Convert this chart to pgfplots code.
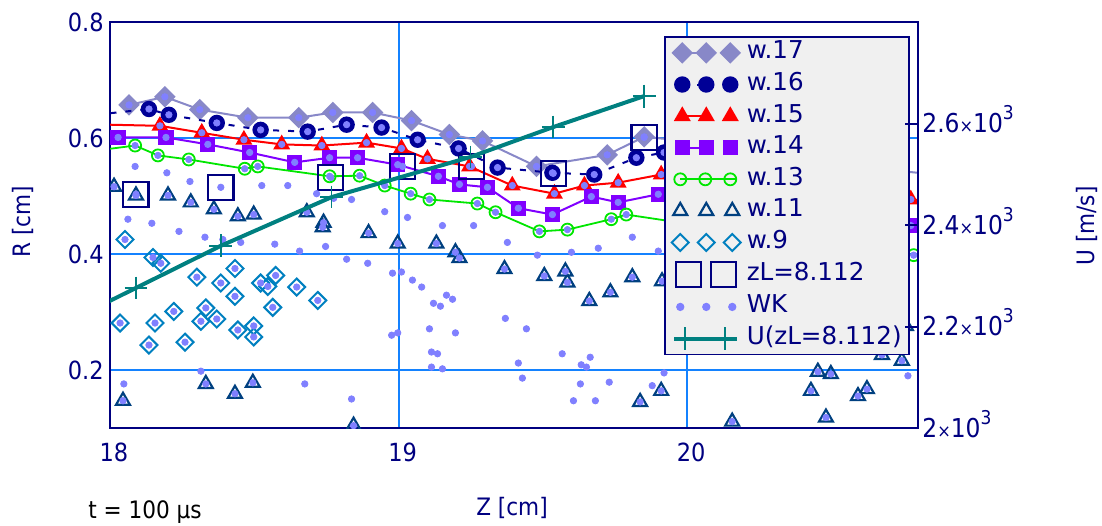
\documentclass[border=0pt]{standalone}
\usepackage{fontspec}
\setmainfont{DejaVu Sans Condensed}
\newfontfamily\legfont{DejaVu Sans}
\usepackage{pgfplots}
\usepackage{pgfplotstable}
\pgfplotsset{compat=1.18}

\definecolor{navy}{RGB}{0,0,128}
\definecolor{gridblue}{RGB}{20,130,255}
\definecolor{w17c}{RGB}{136,136,200}
\definecolor{w16c}{RGB}{0,0,150}
\definecolor{w15c}{RGB}{255,0,0}
\definecolor{w14c}{RGB}{128,0,255}
\definecolor{w13c}{RGB}{0,230,0}
\definecolor{w11c}{RGB}{0,64,128}
\definecolor{w9c}{RGB}{0,128,192}
\definecolor{zlc}{RGB}{0,0,128}
\definecolor{wkc}{RGB}{128,128,255}
\definecolor{uc}{RGB}{0,128,128}
\definecolor{leggray}{RGB}{240,240,240}

\newcommand\tickfont{\fontsize{12.5}{14}\selectfont}
\newcommand\rtickfont{\fontsize{13}{15}\selectfont}
\newcommand\labfont{\fontsize{12}{14}\selectfont}
\newcommand\smx{{\fontsize{9}{9}\selectfont ×}}
\newcommand\supthree{\raisebox{6.5pt}{\fontsize{9.5}{9}\selectfont 3}}

\pgfplotstableread{
x y
18.066 0.657
18.190 0.671
18.311 0.649
18.478 0.635
18.654 0.635
18.772 0.644
18.910 0.644
19.045 0.630
19.176 0.606
19.291 0.595
19.478 0.551
19.723 0.571
19.851 0.602
20.100 0.590
20.450 0.560
20.700 0.545
20.900 0.535
}\wseventeen

\pgfplotstableread{
x y
17.950 0.640
18.135 0.650
18.204 0.640
18.370 0.626
18.522 0.614
18.685 0.611
18.820 0.623
18.941 0.618
19.066 0.597
19.208 0.582
19.343 0.549
19.533 0.540
19.678 0.537
19.824 0.566
19.920 0.575
20.300 0.560
20.700 0.520
20.900 0.500
}\wsixteen

\pgfplotstableread{
x y
17.900 0.624
18.173 0.621
18.318 0.609
18.464 0.597
18.595 0.589
18.734 0.587
18.889 0.592
19.010 0.582
19.100 0.564
19.246 0.551
19.394 0.518
19.540 0.504
19.644 0.518
19.761 0.523
19.910 0.537
20.300 0.530
20.775 0.494
20.900 0.490
}\wfifteen

\pgfplotstableread{
x y
18.028 0.601
18.194 0.601
18.339 0.589
18.484 0.575
18.640 0.558
18.761 0.566
18.858 0.566
18.997 0.554
19.138 0.534
19.211 0.520
19.308 0.515
19.415 0.479
19.533 0.468
19.668 0.499
19.761 0.489
19.900 0.503
20.300 0.480
20.775 0.449
}\wfourteen

\pgfplotstableread{
x y
17.900 0.575
18.087 0.587
18.166 0.570
18.273 0.563
18.467 0.547
18.512 0.551
18.761 0.534
18.865 0.535
18.952 0.518
19.042 0.504
19.107 0.494
19.273 0.487
19.336 0.472
19.488 0.439
19.585 0.442
19.737 0.460
19.789 0.468
20.300 0.430
20.785 0.398
}\wthirteen

\pgfplotstableread{
x y
18.014 0.516
18.090 0.501
18.201 0.501
18.280 0.489
18.360 0.477
18.443 0.465
18.498 0.468
18.682 0.472
18.740 0.454
18.737 0.446
18.896 0.436
18.997 0.418
18.332 0.176
18.433 0.159
18.495 0.178
18.045 0.147
18.844 0.104
19.131 0.418
19.197 0.403
19.211 0.393
19.367 0.374
19.505 0.362
19.578 0.370
19.585 0.351
19.661 0.319
19.734 0.334
19.810 0.360
19.913 0.353
19.837 0.145
19.910 0.164
20.453 0.197
20.498 0.193
20.429 0.164
20.592 0.155
20.623 0.167
20.156 0.111
20.481 0.118
20.675 0.226
20.744 0.216
20.758 0.276
}\weleven

\pgfplotstableread{
x y
18.052 0.425
18.149 0.394
18.176 0.384
18.301 0.360
18.384 0.350
18.433 0.375
18.433 0.327
18.522 0.350
18.547 0.344
18.574 0.363
18.647 0.343
18.720 0.320
18.035 0.281
18.156 0.281
18.221 0.301
18.332 0.307
18.315 0.284
18.370 0.288
18.443 0.269
18.498 0.276
18.498 0.257
18.564 0.308
18.135 0.243
18.260 0.248
}\wnine

\pgfplotstableread{
x y
18.090 0.503
18.384 0.515
18.765 0.532
19.014 0.551
19.253 0.551
19.536 0.539
19.851 0.601
}\zl

\pgfplotstableread{
x y
18.087 0.551
18.197 0.540
18.277 0.525
18.526 0.518
18.616 0.518
18.837 0.494
18.952 0.473
18.062 0.460
18.145 0.453
18.239 0.439
18.329 0.429
18.453 0.420
18.571 0.417
18.747 0.413
18.657 0.405
18.820 0.391
18.893 0.384
18.979 0.367
18.976 0.260
18.997 0.264
18.315 0.198
18.048 0.176
18.675 0.176
18.837 0.150
18.391 0.425
18.716 0.504
18.775 0.496
19.031 0.463
19.152 0.449
19.260 0.449
19.377 0.420
19.481 0.398
19.599 0.403
19.692 0.410
19.810 0.429
19.900 0.405
19.010 0.369
19.048 0.355
19.080 0.343
19.121 0.315
19.145 0.310
19.166 0.329
19.187 0.322
19.370 0.289
19.443 0.271
19.107 0.271
19.197 0.264
19.114 0.231
19.135 0.228
19.114 0.205
19.152 0.202
19.415 0.212
19.429 0.186
19.567 0.228
19.664 0.222
19.633 0.209
19.651 0.205
19.630 0.176
19.730 0.179
19.606 0.147
19.682 0.147
19.879 0.173
19.920 0.195
20.765 0.190
}\wk

\pgfplotstableread{
x u
17.800 2194
18.090 2276
18.384 2359
18.768 2455
19.249 2534
19.536 2593
19.851 2654
}\uzl

\pgfplotsset{
  leglinetwo/.style={legend image code/.code={%
    \path (0pt,0pt) (31.5pt,0pt);
    \draw[##1] (4pt,0pt) -- (16pt,0pt);
    \draw[##1, only marks] plot coordinates {(4pt,0pt) (16pt,0pt) (28pt,0pt)};
  }},
  leglinefull/.style={legend image code/.code={%
    \path (0pt,0pt) (31.5pt,0pt);
    \draw[##1] (3pt,0pt) -- (31pt,0pt);
    \draw[##1, only marks] plot coordinates {(3pt,0pt) (15.5pt,0pt) (28pt,0pt)};
  }},
  legmarks/.style={legend image code/.code={%
    \path (0pt,0pt) (31.5pt,0pt);
    \draw[##1, only marks] plot coordinates {(3pt,0pt) (16pt,0pt) (29pt,0pt)};
  }},
  legtwo/.style={legend image code/.code={%
    \path (0pt,0pt) (31.5pt,0pt);
    \draw[##1, only marks] plot coordinates {(7pt,0pt) (24.5pt,0pt)};
  }},
  legu/.style={legend image code/.code={%
    \path (0pt,0pt) (31.5pt,0pt);
    \draw[##1] (0pt,0pt) -- (31.5pt,0pt);
    \draw[##1, only marks] plot coordinates {(5.5pt,0pt) (25.5pt,0pt)};
  }},
  ustyle/.style={color=uc, line width=2pt, mark=+, mark size=5.7pt, mark options={line width=0.8pt, solid}},
}

\begin{document}
\begin{tikzpicture}[x=1pt,y=1pt]
\useasboundingbox (0,0) rectangle (551,262.5);
\begin{axis}[
  at={(55pt,48.5pt)}, anchor=south west,
  width=404pt, height=203pt, scale only axis,
  xmin=18, xmax=20.8, ymin=0.1, ymax=0.8,
  axis line style={navy, line width=1pt},
  xtick={18,19,20}, xticklabels={18,19,20},
  ytick={0.2,0.4,0.6,0.8}, yticklabels={0.2,0.4,0.6,0.8},
  xtick pos=bottom, ytick pos=left,
  major tick length=0pt,
  grid=major, grid style={gridblue, line width=1pt},
  ticklabel style={font=\tickfont, text=navy},
  xticklabel style={anchor=north, inner sep=0pt, yshift=-7.5pt, xshift=2pt},
  yticklabel style={anchor=east, inner sep=0pt, xshift=-3pt},
  clip marker paths=true,
  legend cell align=left,
  legend style={
    at={(0.6855,0.9655)}, anchor=north west,
    draw=navy, line width=0.9pt, fill=leggray,
    inner xsep=3.5pt, inner ysep=2pt,
    row sep=3.8pt,
    font=\legfont\fontsize{12.3}{13}\selectfont,
    text=navy,
    nodes={inner sep=0pt, text height=9pt, text depth=3pt},
    /tikz/every odd column/.append style={column sep=3pt},
  },
]
\addplot[color=w17c, line width=1pt, mark=square*, mark size=3.3pt, mark options={rotate=45, solid}, leglinetwo] table[x=x,y=y] {\wseventeen};
\addlegendentry{w.17}
\addplot[color=w16c, line width=1pt, dash pattern=on 3pt off 4.5pt, mark=*, mark size=3.6pt, mark options={solid}, leglinetwo] table[x=x,y=y] {\wsixteen};
\addlegendentry{w.16}
\addplot[color=w15c, line width=1pt, mark=triangle*, mark size=3.9pt, mark options={solid}, leglinetwo] table[x=x,y=y] {\wfifteen};
\addlegendentry{w.15}
\addplot[color=w14c, line width=1pt, mark=square*, mark size=3.3pt, mark options={solid}, leglinetwo] table[x=x,y=y] {\wfourteen};
\addlegendentry{w.14}
\addplot[color=w13c, line width=0.9pt, mark=o, mark size=3pt, mark options={solid}, leglinefull] table[x=x,y=y] {\wthirteen};
\addlegendentry{w.13}
\addplot[color=w11c, only marks, mark=triangle, mark size=4pt, mark options={line width=1.1pt}, legmarks] table[x=x,y=y] {\weleven};
\addlegendentry{w.11}
\addplot[color=w9c, only marks, mark=square, mark size=3pt, mark options={rotate=45, line width=1pt}, legmarks] table[x=x,y=y] {\wnine};
\addlegendentry{w.9}
\addplot[color=zlc, only marks, mark=square, mark size=6.3pt, mark options={line width=1.1pt}, legtwo] table[x=x,y=y] {\zl};
\addlegendentry{zL=8.112}
\addplot[color=wkc, only marks, mark=*, mark size=1.6pt, legmarks] table[x=x,y=y] {\wk};
\addlegendentry{WK}
\addplot[color=wkc, only marks, mark=*, mark size=1.6pt, forget plot] table[x=x,y=y] {\wseventeen};
\addplot[color=wkc, only marks, mark=*, mark size=1.6pt, forget plot] table[x=x,y=y] {\wsixteen};
\addplot[color=wkc, only marks, mark=*, mark size=1.6pt, forget plot] table[x=x,y=y] {\wfifteen};
\addplot[color=wkc, only marks, mark=*, mark size=1.6pt, forget plot] table[x=x,y=y] {\wfourteen};
\addplot[color=wkc, only marks, mark=*, mark size=1.6pt, forget plot] table[x=x,y=y] {\wthirteen};
\addplot[color=wkc, only marks, mark=*, mark size=1.6pt, forget plot] table[x=x,y=y] {\weleven};
\addplot[color=wkc, only marks, mark=*, mark size=1.6pt, forget plot] table[x=x,y=y] {\wnine};
\addplot[color=wkc, only marks, mark=*, mark size=1.6pt, forget plot] table[x=x,y=y] {\zl};
\addlegendimage{ustyle, legu}
\addlegendentry{U(zL=8.112)}
\end{axis}
\begin{axis}[
  at={(55pt,48.5pt)}, anchor=south west,
  width=404pt, height=203pt, scale only axis,
  xmin=18, xmax=20.8, ymin=2000, ymax=2800,
  axis x line=none, axis y line*=right,
  axis line style={navy, line width=1pt, -},
  ytick={2000,2200,2400,2600},
  yticklabels={{2\smx10\supthree},{2.2\smx10\supthree},{2.4\smx10\supthree},{2.6\smx10\supthree}},
  tick align=inside, major tick length=6.5pt,
  tick style={navy, line width=1pt},
  ticklabel style={font=\rtickfont, text=navy},
  yticklabel style={anchor=base west, inner sep=0pt, xshift=2pt, yshift=-4.7pt},
  clip marker paths=true,
]
\addplot[ustyle] table[x=x,y=u] {\uzl};
\end{axis}
\node[rotate=90, text=navy, font=\labfont] at (11.5pt,151.5pt) {R [cm]};
\node[rotate=90, text=navy, font=\labfont] at (543.5pt,149.5pt) {U [m/s]};
\node[text=navy, font=\labfont] at (256pt,8.5pt) {Z [cm]};
\node[anchor=west, text=black, font=\labfont, inner sep=0pt] at (44pt,6.5pt) {t = 100 µs};
\end{tikzpicture}
\end{document}
